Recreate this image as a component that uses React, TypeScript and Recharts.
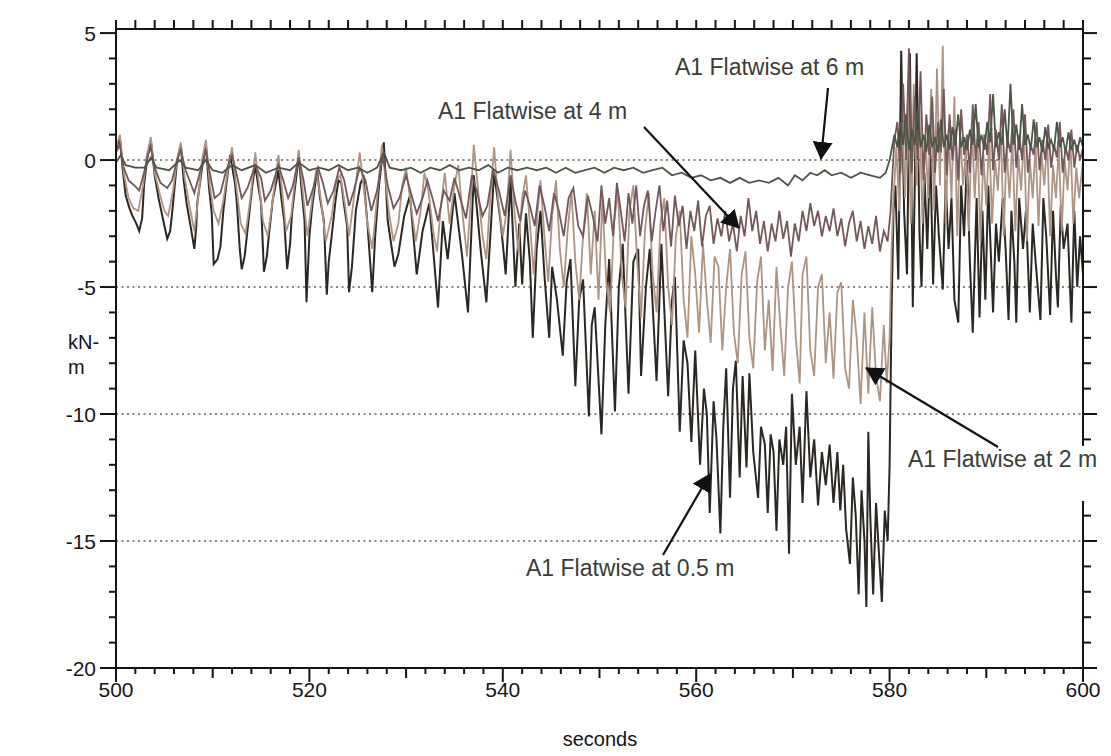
import { LineChart, Line, XAxis, YAxis, ReferenceLine } from "recharts"

type Pt = [number, number]

// A1 flatwise bending moment (kN-m) vs time (s)
const flat05: Pt[] = [
  [500.0, 0.4], [500.4, 0.9], [500.7, -0.4], [501.0, -1.4], [501.4, -1.9], [501.7, -2.2], [502.1, -2.5], [502.4, -2.8], [502.7, -2.3], [502.9, -1.0], [503.2, 0.0], [503.6, 0.8],
  [504.0, -0.6], [504.4, -1.5], [504.9, -2.4], [505.3, -3.1], [505.6, -2.8], [505.8, -2.1], [506.3, -0.1], [506.7, 0.6],
  [507.0, -0.8], [507.3, -1.7], [507.8, -2.8], [508.1, -3.5], [508.3, -2.6], [508.4, -1.7], [508.9, -0.3], [509.3, 0.6],
  [509.6, -1.0], [509.9, -2.1], [510.1, -4.1], [510.5, -3.9], [510.8, -3.4], [511.1, -2.0], [511.4, -1.0], [511.8, 0.2],
  [512.3, -0.9], [512.5, -1.7], [512.8, -3.5], [513.0, -4.3], [513.3, -3.8], [513.7, -2.4], [514.1, -1.0], [514.4, -0.2],
  [514.7, -1.0], [515.0, -1.7], [515.3, -4.4], [515.6, -3.8], [515.8, -3.0], [516.2, -1.6], [516.5, -1.0], [516.8, -0.4],
  [517.1, -1.5], [517.4, -2.4], [517.7, -4.3], [518.0, -3.3], [518.2, -2.1], [518.6, -0.8], [518.9, 0.2],
  [519.2, -1.2], [519.5, -2.4], [519.7, -5.6], [520.0, -3.0], [520.3, -1.8], [520.8, -0.4],
  [521.1, -1.5], [521.5, -2.4], [521.8, -5.3], [522.0, -4.0], [522.3, -3.0], [522.7, -1.6], [523.0, -0.8], [523.3, -0.9],
  [523.6, -1.8], [523.9, -2.6], [524.1, -5.2], [524.4, -4.2],
  [524.8, -2.0], [525.3, -0.9], [525.6, -0.7], [526.0, -2.5], [526.5, -5.2], [526.8, -3.0], [527.2, -1.0], [527.7, 0.7],
  [528.1, -2.4], [528.8, -4.2], [529.2, -3.7], [529.8, -2.2], [530.4, -1.4], [531.1, -4.5], [531.7, -2.8], [532.4, -1.7],
  [533.3, -5.8], [533.8, -2.4], [534.3, -3.9], [535.0, -1.3], [535.8, -3.8], [536.4, -6.0], [537.0, -0.6], [537.7, -3.5],
  [538.3, -5.6], [539.1, -0.5], [539.8, -2.5], [540.3, -4.5], [540.8, -0.8], [541.3, -5.0], [541.7, -2.5], [542.0, -4.9],
  [542.4, -2.1], [542.8, -4.0], [543.1, -7.0], [543.5, -3.5], [543.9, -2.0], [544.3, -4.5], [544.8, -7.0], [545.1, -4.2],
  [545.6, -5.5], [546.2, -7.7], [546.6, -4.8], [547.0, -3.9], [547.5, -8.9], [547.9, -5.5], [548.3, -4.7], [548.9, -10.1],
  [549.2, -6.5], [549.5, -5.8], [550.2, -10.8], [550.6, -6.5], [551.0, -3.9], [551.6, -9.9], [552.0, -5.0], [552.4, -3.3],
  [553.0, -9.2], [553.5, -4.0], [554.0, -3.5], [554.3, -8.5], [554.8, -5.0], [555.2, -3.5], [555.9, -8.7], [556.4, -3.3],
  [557.1, -9.3], [557.5, -5.5], [557.8, -4.6], [558.3, -10.7], [558.7, -7.1], [559.1, -8.0], [559.5, -11.1], [559.9, -7.5],
  [560.4, -12.0], [560.8, -9.0], [561.1, -10.0], [561.4, -13.9], [561.8, -9.5], [562.1, -11.0], [562.5, -14.7], [562.8, -10.5],
  [563.1, -8.2], [563.5, -13.3], [563.8, -9.0], [564.1, -7.9], [564.5, -12.5], [564.8, -8.5], [565.2, -12.1], [565.5, -8.4],
  [565.9, -11.5], [566.4, -13.3], [566.7, -10.5], [567.1, -11.2], [567.4, -13.9], [567.7, -10.8], [568.0, -11.5], [568.3, -14.6],
  [568.6, -11.0], [569.0, -12.0], [569.3, -10.5], [569.6, -15.5], [569.9, -9.2], [570.3, -12.0], [570.7, -10.5], [571.0, -13.5],
  [571.4, -9.1], [571.8, -12.5], [572.2, -11.0], [572.6, -13.6], [573.0, -11.5], [573.4, -12.8], [573.8, -11.2], [574.2, -13.5],
  [574.6, -11.5], [574.9, -13.8], [575.2, -12.0], [575.5, -14.5], [575.9, -15.9], [576.2, -12.5], [576.5, -14.0], [576.8, -17.1],
  [577.1, -13.0], [577.4, -15.0], [577.6, -17.6], [577.8, -10.7], [578.0, -14.0], [578.3, -17.1], [578.6, -13.5], [578.9, -15.5],
  [579.2, -17.4], [579.5, -13.8], [579.8, -15.0], [580.0, -12.0], [580.2, -6.0], [580.4, -2.0], [580.6, -1.0], [580.9, -4.7],
  [581.2, 4.3], [581.5, -2.0], [581.8, -4.5], [582.1, 4.2], [582.4, -5.8], [582.6, -1.0], [582.8, 4.2], [583.1, -3.0],
  [583.3, -5.0], [583.6, -0.5], [583.9, -3.5], [584.2, 0.5], [584.5, -4.9], [584.8, -1.0], [585.1, -3.0], [585.5, -5.1],
  [585.8, -0.8], [586.1, -3.5], [586.4, -1.5], [586.7, -5.5], [587.1, -6.4], [587.4, -1.0], [587.7, -3.0], [588.0, 0.0],
  [588.3, -4.0], [588.6, -6.8], [589.0, -1.5], [589.3, -6.2], [589.6, -2.0], [589.9, -5.5], [590.2, -1.0], [590.7, -6.0],
  [591.0, -2.5], [591.3, -4.0], [591.7, -1.5], [592.0, -3.5], [592.3, -6.3], [592.6, -2.0], [592.9, -4.0], [593.1, -6.4],
  [593.4, -1.5], [593.8, -3.5], [594.1, -2.0], [594.5, -6.0], [594.8, -2.5], [595.1, -4.0], [595.6, -6.3], [595.9, -1.5],
  [596.2, -3.0], [596.6, -6.1], [596.9, -2.0], [597.2, -4.5], [597.4, -5.8], [597.7, -1.8], [598.0, -3.5], [598.4, -2.5],
  [598.8, -6.4], [599.1, -2.0], [599.4, -5.0], [599.7, -3.0], [600.0, -4.5],
]

const flat2: Pt[] = [
  [500.0, 0.5], [500.4, 1.0], [500.8, -0.5], [501.3, -1.5], [501.8, -1.9], [502.3, -2.0], [502.8, -1.0], [503.2, 0.2], [503.6, 0.9],
  [504.0, -0.5], [504.5, -1.3], [505.0, -2.0], [505.4, -2.2], [505.9, -1.2], [506.3, 0.0], [506.7, 0.7],
  [507.1, -0.7], [507.6, -1.8], [508.1, -2.8], [508.5, -1.5], [508.9, 0.0], [509.3, 0.8],
  [509.7, -1.0], [510.1, -2.0], [510.6, -2.5], [511.1, -1.6], [511.6, -0.3], [512.0, 0.5],
  [512.4, -0.9], [512.9, -2.5], [513.4, -2.9], [513.9, -1.5], [514.4, 0.3], [514.8, -1.0], [515.2, -2.4], [515.7, -3.0],
  [516.2, -1.6], [516.8, 0.2], [517.2, -1.3], [517.6, -2.8], [518.1, -2.2], [518.6, -0.5], [518.9, 0.4], [519.3, -1.2],
  [519.8, -3.0], [520.3, -1.5], [520.7, -0.4], [521.2, -1.6], [521.7, -3.2], [522.3, -2.2], [522.8, -0.8], [523.2, -0.6],
  [523.7, -1.8], [524.1, -3.0], [524.6, -1.5], [525.2, 0.3], [525.6, -1.0], [526.0, -2.5], [526.5, -3.5], [527.0, -1.5],
  [527.5, 0.6], [527.8, -0.5], [528.2, -2.0], [528.7, -3.2], [529.2, -2.5], [529.6, -1.0], [530.0, -0.3], [530.4, -1.5],
  [531.0, -3.2], [531.5, -2.0], [531.9, -0.5], [532.3, -1.2], [532.8, -2.8], [533.2, -3.6], [533.6, -1.8], [534.0, -0.5],
  [534.5, -2.5], [535.0, -1.0], [535.4, -0.2], [535.8, -2.0], [536.3, -3.8], [536.7, -1.5], [537.0, 0.6], [537.4, -1.0],
  [537.9, -3.0], [538.3, -3.9], [538.7, -1.5], [539.1, 0.5], [539.5, -1.5], [540.0, -3.0], [540.4, -2.0], [540.8, 0.4],
  [541.2, -2.0], [541.6, -3.6], [542.0, -1.5], [542.4, -0.6], [542.8, -2.5], [543.2, -4.5], [543.6, -2.0], [543.9, -0.8],
  [544.3, -3.0], [544.7, -4.8], [545.1, -2.2], [545.5, -0.8], [545.9, -3.5], [546.3, -5.0], [546.7, -2.8], [547.1, -1.2],
  [547.5, -4.0], [547.9, -5.5], [548.3, -3.0], [548.7, -1.3], [549.1, -4.5], [549.5, -2.0], [549.9, -5.5], [550.3, -1.5],
  [550.7, -4.8], [551.1, -6.0], [551.5, -2.5], [551.9, -1.2], [552.3, -4.5], [552.7, -5.8], [553.1, -2.0], [553.5, -1.0],
  [553.9, -4.0], [554.3, -6.2], [554.7, -2.8], [555.1, -1.3], [555.5, -4.5], [555.9, -6.0], [556.3, -2.5], [556.7, -1.5],
  [557.1, -5.0], [557.5, -6.5], [557.9, -3.0], [558.3, -2.0], [558.7, -5.5], [559.1, -7.0], [559.5, -3.0], [559.9, -4.5],
  [560.3, -6.8], [560.7, -3.3], [561.1, -5.5], [561.5, -7.2], [561.9, -3.8], [562.3, -4.2], [562.7, -7.5], [563.1, -5.0],
  [563.5, -3.5], [563.9, -6.8], [564.3, -8.0], [564.7, -4.5], [565.1, -3.6], [565.5, -7.0], [565.9, -8.2], [566.3, -4.8],
  [566.7, -3.8], [567.1, -7.5], [567.5, -5.5], [567.9, -8.3], [568.3, -4.2], [568.7, -6.5], [569.1, -8.5], [569.5, -5.0],
  [569.9, -4.0], [570.3, -7.0], [570.7, -8.8], [571.0, -4.5], [571.4, -3.8], [571.8, -7.5], [572.2, -8.5], [572.6, -5.0],
  [573.0, -4.5], [573.4, -8.0], [573.8, -6.0], [574.2, -8.6], [574.6, -5.2], [575.0, -4.8], [575.4, -8.2], [575.8, -9.0],
  [576.2, -5.5], [576.6, -7.0], [577.0, -9.6], [577.4, -6.0], [577.8, -9.2], [578.2, -5.8], [578.6, -8.5], [579.0, -9.5],
  [579.4, -6.5], [579.7, -8.8], [580.0, -7.0], [580.2, -3.5], [580.4, -1.5], [580.7, 0.5], [581.0, -2.0], [581.3, 1.5],
  [581.6, -1.5], [581.9, 2.5], [582.2, -2.5], [582.5, 3.0], [582.8, -1.0], [583.1, 2.0], [583.4, -2.5], [583.7, 1.0],
  [584.0, -1.5], [584.3, 2.8], [584.6, -2.0], [584.9, 3.6], [585.2, -1.0], [585.5, 4.5], [585.8, -2.5], [586.1, 1.2],
  [586.4, -1.5], [586.7, 2.5], [587.0, -3.0], [587.3, 1.0], [587.6, -1.0], [587.9, 0.5], [588.2, -2.8], [588.5, 1.5],
  [588.8, -1.5], [589.1, 0.8], [589.4, -3.2], [589.7, 0.2], [590.0, -1.8], [590.3, 1.0], [590.6, -2.5], [590.9, 0.0],
  [591.2, -1.2], [591.5, 1.2], [591.8, -3.0], [592.1, 0.5], [592.4, -1.5], [592.7, 0.8], [593.0, -2.8], [593.3, 0.2],
  [593.6, -1.2], [593.9, 1.0], [594.2, -3.2], [594.5, 0.0], [594.8, -1.5], [595.1, 0.6], [595.4, -2.6], [595.7, 0.3],
  [596.0, -1.0], [596.3, 0.8], [596.6, -3.0], [596.9, -0.2], [597.2, -1.5], [597.5, 0.5], [597.8, -2.8], [598.1, 0.0],
  [598.4, -1.2], [598.7, 0.8], [599.0, -2.5], [599.3, -0.3], [599.6, -1.5], [600.0, 0.0],
]

const flat4: Pt[] = [
  [500.0, 0.3], [500.4, 0.6], [500.8, -0.3], [501.3, -0.8], [501.9, -1.0], [502.4, -1.2], [502.9, -0.5], [503.3, 0.2], [503.6, 0.5],
  [504.0, -0.3], [504.6, -0.9], [505.3, -1.1], [505.8, -0.8], [506.3, 0.0], [506.7, 0.4], [507.2, -0.4], [507.8, -1.0],
  [508.1, -1.3], [508.6, -0.6], [509.3, 0.4], [509.7, -0.5], [510.2, -1.5], [510.8, -1.3], [511.4, -0.4], [512.0, 0.2],
  [512.5, -0.6], [513.0, -1.5], [513.6, -1.1], [514.4, -0.2], [515.0, -0.7], [515.4, -1.6], [516.0, -1.2], [516.8, -0.2],
  [517.3, -0.8], [517.8, -1.5], [518.3, -1.0], [518.9, 0.1], [519.4, -0.8], [519.8, -1.8], [520.4, -1.1], [520.9, -0.3],
  [521.4, -0.9], [521.9, -1.7], [522.5, -1.2], [523.1, -0.3], [523.6, -0.8], [524.1, -1.8], [524.6, -1.2], [525.2, -0.3],
  [525.8, -0.8], [526.4, -2.0], [527.0, -1.2], [527.6, 0.2], [528.1, -1.0], [528.7, -1.9], [529.3, -1.5], [530.0, -0.6],
  [530.5, -1.3], [531.1, -2.1], [531.7, -1.5], [532.2, -0.8], [532.8, -1.6], [533.3, -2.4], [533.9, -1.2], [534.5, -1.6],
  [535.0, -0.7], [535.6, -1.5], [536.2, -2.3], [536.8, -0.6], [537.3, -1.2], [537.9, -2.2], [538.4, -1.8], [539.0, -0.4],
  [539.6, -1.2], [540.2, -2.2], [540.8, -0.6], [541.3, -1.6], [541.8, -2.4], [542.3, -1.2], [542.8, -1.8], [543.3, -2.6],
  [543.8, -1.0], [544.3, -1.8], [544.8, -2.8], [545.3, -1.3], [545.8, -2.0], [546.3, -3.0], [546.8, -1.5], [547.3, -1.1],
  [547.8, -2.6], [548.3, -3.0], [548.8, -1.4], [549.3, -2.2], [549.8, -3.2], [550.2, -1.0], [550.6, -2.5], [551.0, -1.5],
  [551.4, -3.0], [551.8, -0.9], [552.2, -2.0], [552.6, -3.2], [553.0, -1.3], [553.4, -2.5], [553.8, -1.0], [554.2, -3.0],
  [554.6, -1.8], [555.0, -1.2], [555.4, -3.2], [555.8, -2.0], [556.2, -1.0], [556.6, -2.8], [557.0, -1.6], [557.4, -3.4],
  [557.8, -1.4], [558.2, -2.6], [558.6, -1.8], [559.0, -3.5], [559.4, -2.0], [559.8, -2.8], [560.2, -1.6], [560.6, -3.4],
  [561.0, -2.2], [561.4, -1.8], [561.8, -3.3], [562.2, -2.3], [562.6, -3.0], [563.0, -2.0], [563.4, -3.2], [563.8, -2.5],
  [564.2, -3.6], [564.6, -2.2], [565.0, -3.0], [565.4, -1.5], [565.8, -2.8], [566.2, -2.0], [566.6, -3.3], [567.0, -2.4],
  [567.4, -3.6], [567.8, -2.5], [568.2, -3.2], [568.6, -2.0], [569.0, -3.1], [569.4, -2.4], [569.8, -3.8], [570.2, -2.5],
  [570.6, -3.2], [571.0, -2.0], [571.4, -2.8], [571.8, -1.7], [572.2, -2.6], [572.6, -2.0], [573.0, -3.0], [573.4, -2.2],
  [573.8, -2.8], [574.2, -1.9], [574.6, -3.0], [575.0, -2.3], [575.4, -3.4], [575.8, -2.5], [576.2, -2.0], [576.6, -3.2],
  [577.0, -2.4], [577.4, -3.5], [577.8, -2.6], [578.2, -3.3], [578.6, -2.2], [579.0, -3.6], [579.4, -2.8], [579.8, -3.2],
  [580.1, -2.0], [580.3, -0.5], [580.5, 0.8], [580.8, 1.5], [581.1, -0.5], [581.4, 3.0], [581.7, 0.0], [582.0, 4.4],
  [582.3, -0.5], [582.6, 2.5], [582.9, 0.0], [583.2, 3.5], [583.5, -0.8], [583.8, 1.8], [584.1, 0.2], [584.4, 2.5],
  [584.7, -0.5], [585.0, 1.5], [585.3, 0.3], [585.6, 2.8], [585.9, -0.6], [586.2, 1.8], [586.5, 0.0], [586.8, 1.2],
  [587.1, -0.8], [587.4, 2.0], [587.7, 0.2], [588.0, 1.0], [588.3, -0.5], [588.6, 2.2], [588.9, 0.0], [589.2, 1.5],
  [589.5, -0.6], [589.8, 1.0], [590.1, 0.2], [590.4, 2.6], [590.7, -0.4], [591.0, 1.2], [591.3, 0.0], [591.6, 2.2],
  [591.9, -0.5], [592.2, 0.8], [592.5, 0.3], [592.8, 2.0], [593.1, -0.3], [593.4, 1.0], [593.7, 0.0], [594.0, 1.8],
  [594.3, -0.5], [594.6, 0.6], [594.9, 0.2], [595.2, 1.5], [595.5, -0.4], [595.8, 0.8], [596.1, 0.0], [596.4, 1.4],
  [596.7, -0.3], [597.0, 0.6], [597.3, 0.1], [597.6, 1.5], [597.9, -0.5], [598.2, 0.5], [598.5, 0.0], [598.8, 1.2],
  [599.1, -0.3], [599.4, 0.6], [599.7, 0.0], [600.0, 0.5],
]

const flat6: Pt[] = [
  [500.0, -0.1], [500.5, 0.2], [501.0, -0.2], [502.0, -0.3], [503.0, -0.3], [503.6, 0.1], [504.2, -0.3], [505.5, -0.4],
  [506.6, 0.0], [507.2, -0.3], [508.5, -0.4], [509.3, 0.0], [510.0, -0.4], [511.0, -0.5], [512.0, -0.2], [513.0, -0.4],
  [514.4, -0.2], [515.5, -0.5], [516.8, -0.3], [518.0, -0.4], [518.9, -0.1], [520.0, -0.4], [521.0, -0.3], [522.0, -0.4],
  [523.0, -0.2], [524.0, -0.4], [525.0, -0.3], [526.0, -0.5], [527.0, -0.3], [527.7, 0.3], [528.3, -0.3], [529.5, -0.4],
  [530.5, -0.3], [531.5, -0.5], [532.5, -0.3], [533.5, -0.4], [534.5, -0.2], [535.5, -0.4], [536.5, -0.3], [537.5, -0.4],
  [538.5, -0.2], [539.5, -0.5], [540.5, -0.3], [541.5, -0.4], [542.5, -0.3], [543.5, -0.4], [544.5, -0.3], [545.5, -0.5],
  [546.5, -0.3], [547.5, -0.5], [548.5, -0.4], [549.5, -0.3], [550.5, -0.5], [551.5, -0.3], [552.5, -0.4], [553.5, -0.3],
  [554.5, -0.5], [555.5, -0.4], [556.5, -0.3], [557.5, -0.6], [558.5, -0.5], [559.5, -0.7], [560.5, -0.6], [561.5, -0.8],
  [562.5, -0.7], [563.5, -0.9], [564.5, -0.7], [565.5, -0.9], [566.5, -0.8], [567.5, -0.9], [568.5, -0.7], [569.5, -1.0],
  [570.2, -0.6], [571.0, -0.8], [571.8, -0.5], [572.5, -0.6], [573.3, -0.4], [574.0, -0.6], [575.0, -0.5], [576.0, -0.7],
  [577.0, -0.5], [578.0, -0.6], [579.0, -0.7], [579.6, -0.5], [580.0, 0.0], [580.5, 1.0], [580.8, 0.5], [581.1, 1.5],
  [581.4, 0.6], [581.7, 1.8], [582.0, 0.4], [582.3, 1.2], [582.6, 0.6], [582.9, 2.0], [583.2, 0.5], [583.5, 1.0],
  [583.8, 0.3], [584.1, 1.4], [584.4, 0.5], [584.7, 0.9], [585.0, 0.3], [585.3, 1.6], [585.6, 0.5], [585.9, 1.0],
  [586.2, 0.4], [586.5, 1.3], [586.8, 0.6], [587.1, 1.8], [587.4, 0.5], [587.7, 0.9], [588.0, 0.4], [588.3, 1.2],
  [588.6, 0.6], [588.9, 2.2], [589.2, 0.5], [589.5, 1.0], [589.8, 0.4], [590.1, 1.5], [590.4, 0.7], [590.7, 2.6],
  [591.0, 0.5], [591.3, 1.1], [591.6, 0.6], [591.9, 2.0], [592.2, 0.5], [592.5, 3.0], [592.8, 0.6], [593.1, 1.4],
  [593.4, 0.4], [593.7, 2.2], [594.0, 0.6], [594.3, 1.0], [594.6, 0.4], [594.9, 1.6], [595.2, 0.5], [595.5, 0.9],
  [595.8, 0.3], [596.1, 1.3], [596.4, 0.5], [596.7, 0.8], [597.0, 0.4], [597.3, 1.5], [597.6, 0.5], [597.9, 0.9],
  [598.2, 0.3], [598.5, 1.1], [598.8, 0.4], [599.1, 0.8], [599.4, 0.3], [599.7, 0.9], [600.0, 0.5],
]

const xLabels = [500, 520, 540, 560, 580, 600]
const yLabels = [5, 0, -5, -10, -15, -20]
const gridLines = [0, -5, -10, -15]

const xMinor: number[] = []
for (let t = 500; t <= 600; t += 2) xMinor.push(t)
const yMinor: number[] = []
for (let v = -20; v <= 5; v += 1) yMinor.push(v)

const series = [
  { key: "f05", pts: flat05, color: "#2b2824", width: 2 },
  { key: "f2", pts: flat2, color: "#ad9483", width: 1.8 },
  { key: "f4", pts: flat4, color: "#735759", width: 1.8 },
  { key: "f6", pts: flat6, color: "#4c5645", width: 1.8 },
]

const rowMap = new Map<number, Record<string, number>>()
series.forEach((s) => {
  s.pts.forEach(([t, v]) => {
    const row = rowMap.get(t) ?? { t }
    row[s.key] = v
    rowMap.set(t, row)
  })
})
const data = [...rowMap.values()].sort((a, b) => a.t - b.t)

const FONT = "'Liberation Sans', Arial, sans-serif"
const INK = "#151515"

const LeftTick = (props: any) => {
  const { x, y, payload } = props
  const v = payload.value
  const major = yLabels.includes(v)
  return (
    <g>
      <line x1={x} x2={x - (major ? 16 : 7)} y1={y} y2={y} stroke={INK} strokeWidth={2} />
      {major && (
        <text x={x - 20} y={y} dy="0.36em" textAnchor="end" fontSize={21} fontFamily={FONT} fill={INK}>
          {v}
        </text>
      )}
    </g>
  )
}

const RightTick = (props: any) => {
  const { x, y, payload } = props
  const major = yLabels.includes(payload.value)
  return <line x1={x} x2={x + (major ? 14 : 8)} y1={y} y2={y} stroke={INK} strokeWidth={2} />
}

const BottomTick = (props: any) => {
  const { x, y, payload } = props
  const v = payload.value
  const major = xLabels.includes(v)
  const len = major ? 14 : v % 10 === 0 ? 10 : 6
  return (
    <g>
      <line x1={x} x2={x} y1={y} y2={y + len} stroke={INK} strokeWidth={2} />
      {major && (
        <text x={x} y={y + 29} textAnchor="middle" fontSize={21} fontFamily={FONT} fill={INK}>
          {v}
        </text>
      )}
    </g>
  )
}

const TopTick = (props: any) => {
  const { x, y } = props
  return <line x1={x} x2={x} y1={y} y2={y - 9} stroke={INK} strokeWidth={2} />
}

export default function App() {
  return (
    <div style={{ position: "relative", width: 1111, height: 756, background: "#fff" }}>
      <style>{"body{margin:0}"}</style>
      <LineChart width={1111} height={756} data={data} margin={{ top: 9, right: 8, bottom: 28, left: 56 }}>
        <XAxis
          xAxisId="bottom"
          dataKey="t"
          type="number"
          domain={[500, 600]}
          ticks={xMinor}
          interval={0}
          height={60}
          tickSize={0}
          tickMargin={0}
          tickLine={false}
          tick={<BottomTick />}
          axisLine={{ stroke: INK, strokeWidth: 2 }}
          allowDataOverflow
        />
        <XAxis
          xAxisId="top"
          dataKey="t"
          orientation="top"
          type="number"
          domain={[500, 600]}
          ticks={xMinor}
          interval={0}
          height={20}
          tickSize={0}
          tickMargin={0}
          tickLine={false}
          tick={<TopTick />}
          axisLine={{ stroke: INK, strokeWidth: 2 }}
          allowDataOverflow
        />
        <YAxis
          yAxisId="left"
          type="number"
          domain={[-20, 5.16]}
          ticks={yMinor}
          interval={0}
          width={60}
          tickSize={0}
          tickMargin={0}
          tickLine={false}
          tick={<LeftTick />}
          axisLine={{ stroke: INK, strokeWidth: 2 }}
          allowDataOverflow
        />
        <YAxis
          yAxisId="right"
          orientation="right"
          type="number"
          domain={[-20, 5.16]}
          ticks={yMinor}
          interval={0}
          width={20}
          tickSize={0}
          tickMargin={0}
          tickLine={false}
          tick={<RightTick />}
          axisLine={{ stroke: INK, strokeWidth: 2 }}
          allowDataOverflow
        />
        {gridLines.map((g) => (
          <ReferenceLine
            key={g}
            y={g}
            xAxisId="bottom"
            yAxisId="left"
            stroke="#6e5a52"
            strokeWidth={1.5}
            strokeDasharray="2 3.5"
          />
        ))}
        {series.map((s) => (
          <Line
            key={s.key}
            xAxisId="bottom"
            yAxisId="left"
            dataKey={s.key}
            type="linear"
            stroke={s.color}
            strokeWidth={s.width}
            dot={false}
            activeDot={false}
            connectNulls
            isAnimationActive={false}
          />
        ))}
      </LineChart>
      <svg
        width={1111}
        height={756}
        style={{ position: "absolute", left: 0, top: 0, pointerEvents: "none" }}
        fontFamily={FONT}
      >
        <defs>
          <marker id="head" markerUnits="userSpaceOnUse" markerWidth={18} markerHeight={20} refX={17} refY={10} orient="auto">
            <path d="M0,0 L18,10 L0,20 z" fill="#111" />
          </marker>
        </defs>
        <rect x={903} y={446} width={208} height={55} fill="#fff" />
        <g fontSize={23} fill="#3a3d36">
          <text x={675} y={75}>A1 Flatwise at 6 m</text>
          <text x={438} y={119}>A1 Flatwise at 4 m</text>
          <text x={908} y={467}>A1 Flatwise at 2 m</text>
          <text x={526} y={576}>A1 Flatwise at 0.5 m</text>
        </g>
        <g stroke="#111" strokeWidth={2.2} markerEnd="url(#head)">
          <line x1={828} y1={88} x2={821} y2={159} />
          <line x1={644} y1={127} x2={739} y2={228} />
          <line x1={998} y1={447} x2={866} y2={368} />
          <line x1={663} y1={555} x2={710} y2={474} />
        </g>
        <g fontSize={20} fill={INK}>
          <text x={68} y={349}>kN-</text>
          <text x={68} y={374}>m</text>
          <text x={600} y={746} textAnchor="middle">seconds</text>
        </g>
      </svg>
    </div>
  )
}
